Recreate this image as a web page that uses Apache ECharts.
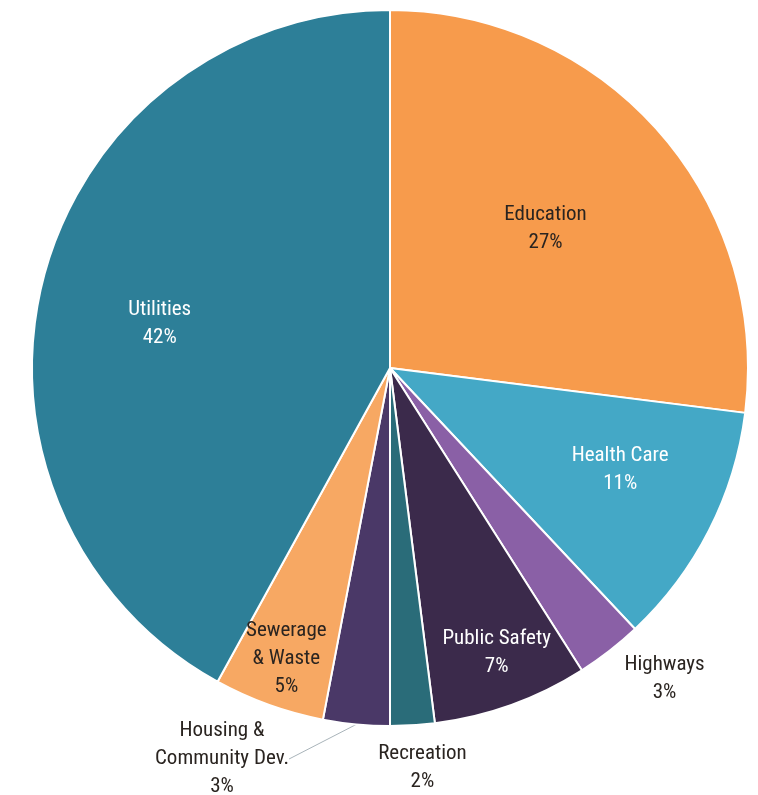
<!DOCTYPE html>
<html>
<head>
<meta charset="utf-8">
<script src="https://cdn.jsdelivr.net/npm/echarts@6/dist/echarts.min.js"></script>
<style>
  html, body { margin: 0; padding: 0; background: #ffffff; }
  #chart { width: 758px; height: 795px; }
</style>
</head>
<body>
<div id="chart"></div>
<script>
// Spending shares by category, clockwise from 12 o'clock
const categories = ['Education', 'Health Care', 'Highways', 'Public Safety', 'Recreation',
  'Housing &\nCommunity Dev.', 'Sewerage\n& Waste', 'Utilities'];
const shares = [27, 11, 3, 7, 2, 3, 5, 42];

const sliceColors = ['#f79b4c', '#44a8c6', '#8a60a6', '#3b2a4b', '#2a6c79', '#4a3867', '#f7a863', '#2d7f98'];
const labelColors = ['#2a2420', '#ffffff', '#2a2420', '#ffffff', '#2a2420', '#2a2420', '#2a2420', '#ffffff'];
// nudges of each label away from the slice's mid-radius point
const labelOffsets = [[19, -19], [68, 19], [163, 167], [45, 114], [21, 218], [0, 0], [-42, 120], [-54, 1]];

const chart = echarts.init(document.getElementById('chart'), null, { renderer: 'canvas' });

const font = '"Roboto Condensed", "DejaVu Sans Condensed", "Liberation Sans Narrow", "Noto Sans", sans-serif';
const HOUSING = 5;

const data = categories.map((name, i) => ({
  name,
  value: shares[i],
  itemStyle: { color: sliceColors[i] },
  label: {
    position: i === HOUSING ? 'outside' : 'inside',
    color: labelColors[i],
    offset: labelOffsets[i]
  },
  labelLine: { show: i === HOUSING }
}));

chart.setOption({
  backgroundColor: '#ffffff',
  animation: false,
  series: [{
    type: 'pie',
    center: [390, 368],
    radius: 358,
    startAngle: 90,
    clockwise: true,
    avoidLabelOverlap: false,
    itemStyle: { borderColor: '#ffffff', borderWidth: 2 },
    label: {
      formatter: p => p.name + '\n' + p.value + '%',
      fontFamily: font,
      fontSize: 21,
      lineHeight: 28,
      align: 'center'
    },
    labelLine: {
      length: 0,
      length2: 0,
      lineStyle: { color: '#a9b4ba', width: 1 }
    },
    labelLayout: p => p.dataIndex === HOUSING
      ? { x: 222, y: 759, align: 'center', verticalAlign: 'middle', hideOverlap: false }
      : { hideOverlap: false },
    data
  }]
});
</script>
</body>
</html>
